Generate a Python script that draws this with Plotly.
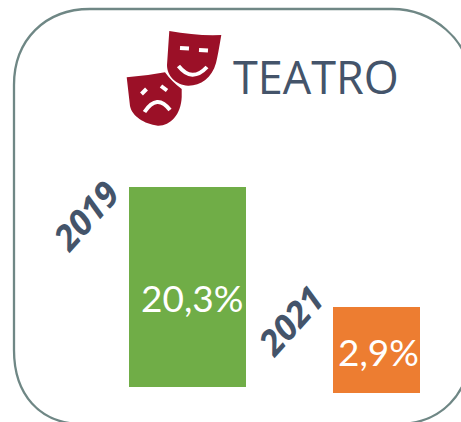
import plotly.graph_objects as go

W, H = 461, 422
years = ["2019", "2021"]
labels = ["20,3%", "2,9%"]
# Bar heights and floors (bars are not drawn to a shared scale)
bar_heights = [200, 86]
bar_floors = [35, 29]
bar_centers = [187.5, 376.5]
bar_widths = [117, 87]
bar_colors = ["#70AD47", "#ED7D31"]
title = "TEATRO"

TEXT = "#44546A"
MASK = "#9B1027"
BORDER = "#6F8785"


def p(x, y):
    return f"{x} {H - y}"


fig = go.Figure()
fig.add_trace(go.Bar(
    x=bar_centers, y=bar_heights, base=bar_floors, width=bar_widths,
    marker=dict(color=bar_colors, line_width=0),
    hoverinfo="skip", showlegend=False,
))

border = (f"M{p(14, 85)} C{p(14, 40)} {p(45, 9)} {p(90, 9)} L{p(392, 9)} "
          f"C{p(432, 9)} {p(470, 40)} {p(470, 80)} L{p(470, 350)} "
          f"C{p(470, 395)} {p(440, 423)} {p(400, 424)} L{p(80, 424)} "
          f"C{p(40, 423)} {p(14, 395)} {p(14, 350)} Z")
happy = (f"M{p(169.3, 31)} Q{p(196, 36)} {p(221.3, 35)} Q{p(218, 55)} {p(216, 63)} "
         f"C{p(212, 78)} {p(200, 86)} {p(188, 85.7)} C{p(176, 85)} {p(167, 76)} {p(167, 65)} Z")
sad = (f"M{p(126.7, 77.3)} Q{p(146, 76)} {p(165, 72.3)} Q{p(172, 82)} {p(181.7, 89)} L{p(181.7, 97)} "
       f"C{p(181, 115)} {p(170, 126)} {p(158, 125.7)} C{p(144, 124)} {p(132, 116)} {p(130, 106)} Z")
strokes = [
    f"M{p(180, 48)} L{p(189, 48.5)}",
    f"M{p(199, 50)} L{p(208, 50.5)}",
    f"M{p(178.5, 66)} Q{p(192, 83)} {p(207, 67)}",
    f"M{p(141.5, 94)} L{p(146.5, 89)}",
    f"M{p(161, 86)} L{p(167, 90.5)}",
    f"M{p(144.5, 112)} Q{p(157, 93)} {p(170, 110)}",
]
shapes = [dict(type="path", path=border, xref="x", yref="y", line=dict(color=BORDER, width=2.3), fillcolor="rgba(0,0,0,0)", layer="below"),
          dict(type="path", path=happy, xref="x", yref="y", line_width=0, fillcolor=MASK),
          dict(type="path", path=sad, xref="x", yref="y", line_width=0, fillcolor=MASK)]
shapes += [dict(type="path", path=s, xref="x", yref="y", line=dict(color="white", width=4)) for s in strokes]

annotations = [
    dict(x=316, y=H - 76, text=title, showarrow=False, xanchor="center", yanchor="middle",
         font=dict(family="Open Sans", size=45, color=TEXT)),
    dict(x=85, y=H - 215, text=f"<b><i>{years[0]}</i></b>", textangle=-48, showarrow=False,
         font=dict(family="Open Sans", size=35, color=TEXT)),
    dict(x=290, y=H - 320, text=f"<b><i>{years[1]}</i></b>", textangle=-48, showarrow=False,
         font=dict(family="Open Sans", size=35, color=TEXT)),
    dict(x=192, y=H - 297, text=labels[0], showarrow=False,
         font=dict(family="Lato", size=37, color="white")),
    dict(x=378, y=H - 351, text=labels[1], showarrow=False,
         font=dict(family="Lato", size=37, color="white")),
]

fig.update_layout(
    width=W, height=H, margin=dict(l=0, r=0, t=0, b=0),
    paper_bgcolor="white", plot_bgcolor="white",
    xaxis=dict(range=[0, W], visible=False, fixedrange=True),
    yaxis=dict(range=[0, H], visible=False, fixedrange=True),
    shapes=shapes, annotations=annotations,
)
fig.write_html("out.html", config={"displayModeBar": False},
               post_script="document.body.style.margin='0';document.body.style.overflow='hidden';")
